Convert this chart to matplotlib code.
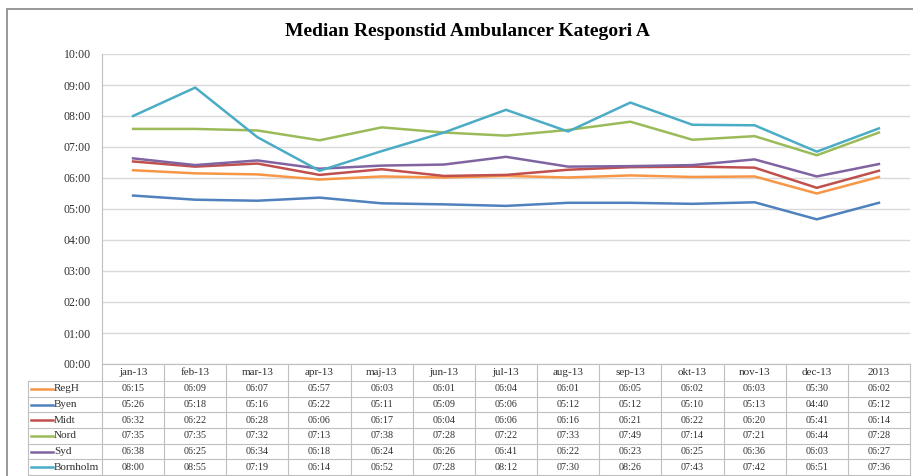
import matplotlib
matplotlib.use("Agg")
import matplotlib.pyplot as plt
from matplotlib.lines import Line2D
from matplotlib.patches import Rectangle
from matplotlib.transforms import blended_transform_factory

# Data (mm:ss)
months = ['jan-13', 'feb-13', 'mar-13', 'apr-13', 'maj-13', 'jun-13', 'jul-13',
          'aug-13', 'sep-13', 'okt-13', 'nov-13', 'dec-13', '2013']
regh = ['06:15', '06:09', '06:07', '05:57', '06:03', '06:01', '06:04', '06:01', '06:05', '06:02', '06:03', '05:30', '06:02']
byen = ['05:26', '05:18', '05:16', '05:22', '05:11', '05:09', '05:06', '05:12', '05:12', '05:10', '05:13', '04:40', '05:12']
midt = ['06:32', '06:22', '06:28', '06:06', '06:17', '06:04', '06:06', '06:16', '06:21', '06:22', '06:20', '05:41', '06:14']
nord = ['07:35', '07:35', '07:32', '07:13', '07:38', '07:28', '07:22', '07:33', '07:49', '07:14', '07:21', '06:44', '07:28']
syd = ['06:38', '06:25', '06:34', '06:18', '06:24', '06:26', '06:41', '06:22', '06:23', '06:25', '06:36', '06:03', '06:27']
bornholm = ['08:00', '08:55', '07:19', '06:14', '06:52', '07:28', '08:12', '07:30', '08:26', '07:43', '07:42', '06:51', '07:36']

names = ['RegH', 'Byen', 'Midt', 'Nord', 'Syd', 'Bornholm']
series = [regh, byen, midt, nord, syd, bornholm]
colors = ['#F79646', '#4F81BD', '#C0504D', '#9BBB59', '#8064A2', '#4BACC6']
yticks = ['00:00', '01:00', '02:00', '03:00', '04:00', '05:00', '06:00',
          '07:00', '08:00', '09:00', '10:00']


def to_sec(s):
    m, sec = s.split(':')
    return int(m) * 60 + int(sec)


plt.rcParams['font.family'] = ['Liberation Serif', 'DejaVu Serif']

W, H = 913, 476
fig = plt.figure(figsize=(W / 100, H / 100), dpi=100)

# pixel layout
left, right, top, bottom = 102, 910, 54, 364
ax = fig.add_axes([left / W, 1 - bottom / H, (right - left) / W, (bottom - top) / H])

# outer chart border
fig.patches.append(Rectangle((7 / W, -0.1), 1.2, 1 - 9 / H + 0.1, transform=fig.transFigure,
                             fill=False, edgecolor='#868686', linewidth=1.2))

x = [i + 0.5 for i in range(len(months))]
for name, vals, c in zip(names, series, colors):
    ax.plot(x, [to_sec(v) for v in vals], color=c, linewidth=1.8, solid_joinstyle='round')

ax.set_xlim(0, len(months))
ax.set_ylim(0, 600)
ax.set_yticks([i * 60 for i in range(len(yticks))])
ax.set_yticklabels(yticks, fontsize=8.5, color='#303030')
ax.set_xticks([])
ax.tick_params(axis='y', length=0, pad=8)
ax.grid(axis='y', color='#D9D9D9', linewidth=1)
ax.set_axisbelow(True)
for s in ['top', 'right', 'bottom']:
    ax.spines[s].set_visible(False)
ax.spines['left'].set_color('#BFBFBF')

fig.text(467 / W, 1 - 31 / H, 'Median Responstid Ambulancer Kategori A',
         ha='center', va='center', fontsize=14, fontweight='bold')

# data table under the plot
tr = blended_transform_factory(ax.transData, fig.transFigure)
ff = fig.transFigure
row_h = (475 - 381) / 6
row_edges = [364, 381] + [381 + row_h * (i + 1) for i in range(6)]
line_c = '#BFBFBF'


def fy(p):
    return 1 - p / H


# horizontal lines
for i, yy in enumerate(row_edges):
    x0 = left if i == 0 else 28
    fig.add_artist(Line2D([x0 / W, right / W], [fy(yy), fy(yy)], transform=ff,
                          color=line_c, linewidth=0.8))
# vertical lines
fig.add_artist(Line2D([28 / W, 28 / W], [fy(381), fy(475)], transform=ff, color=line_c, linewidth=0.8))
for i in range(len(months) + 1):
    fig.add_artist(Line2D([i, i], [fy(364), fy(475)], transform=tr, color=line_c, linewidth=0.8))

for j, m in enumerate(months):
    fig.text(x[j], fy(372.5), m, transform=tr, ha='center', va='center', fontsize=8, color='#303030')

for r, (name, vals, c) in enumerate(zip(names, series, colors)):
    yc = fy(381 + row_h * (r + 0.5))
    fig.add_artist(Line2D([31 / W, 53 / W], [yc, yc], transform=ff, color=c, linewidth=1.8))
    fig.text(54 / W, yc, name, transform=ff, ha='left', va='center', fontsize=8, color='#303030')
    for j, v in enumerate(vals):
        fig.text(x[j], yc, v, transform=tr, ha='center', va='center', fontsize=7.3, color='#303030')

fig.savefig('out.png', dpi=100)
